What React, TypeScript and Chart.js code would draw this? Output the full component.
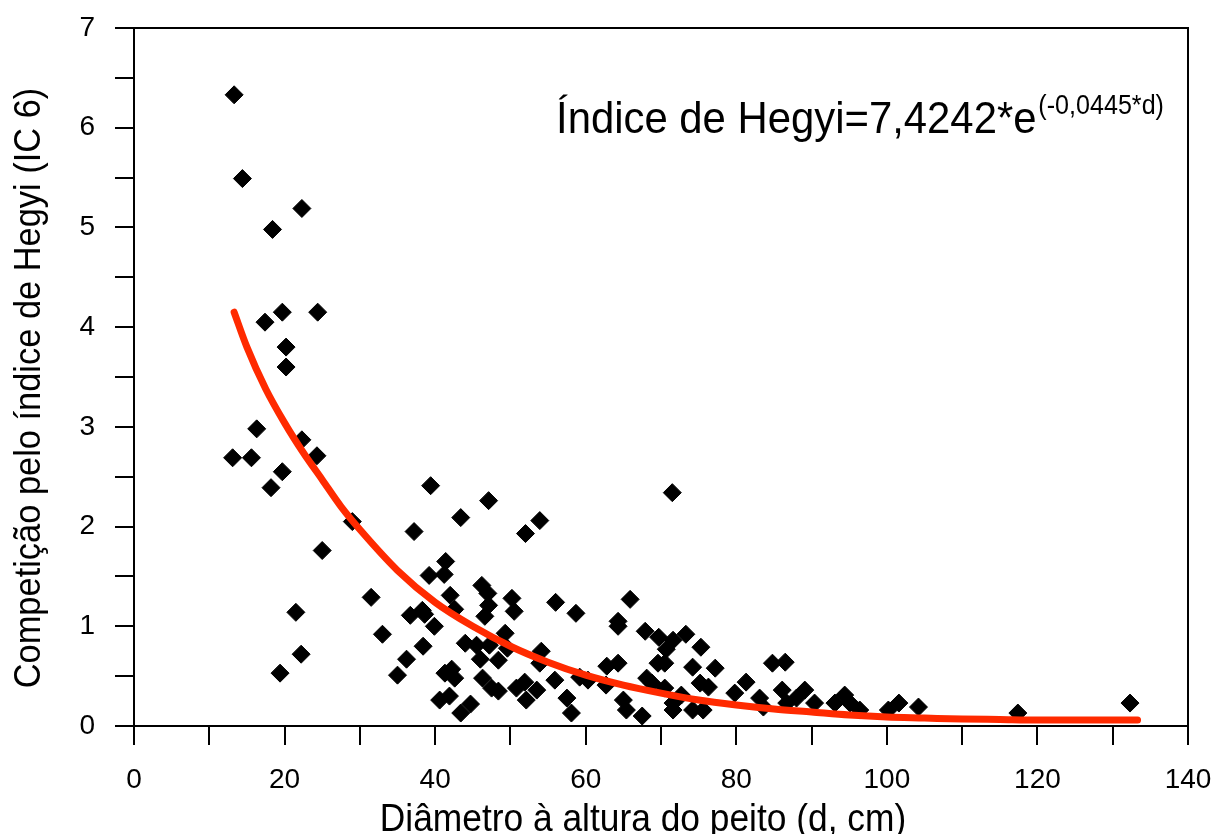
import React, { useEffect, useRef } from "react";
import { Chart, registerables } from "chart.js";

Chart.register(...registerables);

// Observed data: diameter at breast height (cm) and Hegyi competition index
const diameterCm: number[] = [
  13.3, 14.4, 18.4, 22.3, 17.4, 19.7, 24.4, 20.2, 20.2, 16.3, 13.1, 15.6, 19.7, 18.2, 22.3, 24.3, 25.0, 29.0, 21.5, 22.2, 19.4,
  39.4, 47.1, 43.4, 37.2, 52.0, 53.9, 71.5, 31.5, 33.0, 35.0, 36.2, 36.7, 38.3, 38.6, 39.2, 41.4, 41.2, 39.9, 38.4,
  42.0, 42.6, 44.0, 45.5, 47.2, 46.0, 48.4, 49.3, 49.6, 46.2, 47.0, 47.1, 46.6, 50.2, 50.5, 42.2, 42.6, 41.3, 40.6,
  41.9, 43.4, 44.7, 46.3, 47.5, 48.4, 50.8, 51.9, 52.1, 56.0, 58.7, 65.9, 64.3, 64.3, 67.9, 69.7, 71.6, 73.3, 70.7,
  75.3, 70.5, 74.2, 77.2, 54.1, 53.9, 55.9, 53.5, 57.5, 58.1, 59.2, 60.3, 62.8, 64.3, 62.7, 65.0, 65.4, 67.5, 68.1,
  68.8, 70.5, 71.6, 71.6, 72.7, 74.2, 75.6, 75.2, 76.3, 79.8, 81.3, 83.1, 83.6, 84.8, 86.5, 86.1, 86.7, 88.0, 89.1,
  90.4, 93.1, 94.4, 95.1, 96.4, 100.2, 101.6, 104.2, 117.4, 132.3, 69.6,
];
const hegyiIndex: number[] = [
  6.33, 5.49, 4.98, 5.19, 4.05, 4.15, 4.15, 3.80, 3.60, 2.98, 2.69, 2.69, 2.55, 2.39, 2.87, 2.71, 1.76, 2.05, 1.14, 0.72, 0.53,
  2.41, 2.26, 2.09, 1.95, 1.93, 2.06, 2.34, 1.29, 0.92, 0.51, 0.67, 1.11, 1.16, 1.12, 1.51, 1.65, 1.52, 1.00, 0.80,
  1.31, 1.17, 0.83, 0.81, 0.81, 0.67, 0.66, 0.93, 0.78, 1.41, 1.33, 1.21, 1.10, 1.28, 1.15, 0.57, 0.48, 0.53, 0.26,
  0.30, 0.13, 0.22, 0.48, 0.38, 0.35, 0.38, 0.44, 0.26, 1.24, 1.13, 1.27, 1.05, 1.00, 0.95, 0.89, 0.86, 0.92, 0.77,
  0.79, 0.63, 0.59, 0.58, 0.75, 0.63, 0.46, 0.36, 0.28, 0.13, 0.49, 0.46, 0.60, 0.63, 0.41, 0.26, 0.16, 0.10, 0.48,
  0.43, 0.38, 0.23, 0.16, 0.31, 0.16, 0.16, 0.43, 0.39, 0.33, 0.44, 0.28, 0.19, 0.63, 0.64, 0.36, 0.23, 0.28, 0.36,
  0.23, 0.23, 0.31, 0.23, 0.16, 0.16, 0.23, 0.19, 0.13, 0.23, 0.63,
];

// Fitted curve
const fitDiameter: number[] = [13.3, 15, 17.5, 20, 22.5, 25, 27.5, 30, 35, 40, 45, 50, 55, 60, 65, 70, 75, 80, 85, 90, 95, 100, 105, 110, 115, 120, 125, 130, 133.3];
const fitIndex: number[] = [4.15, 3.8, 3.38, 3.04, 2.74, 2.47, 2.2, 1.97, 1.56, 1.24, 1.0, 0.8, 0.64, 0.51, 0.41, 0.33, 0.26, 0.21, 0.17, 0.14, 0.11, 0.09, 0.08, 0.07, 0.065, 0.06, 0.06, 0.06, 0.06];

const xTickLabels: number[] = [0, 20, 40, 60, 80, 100, 120, 140];
const yTickLabels: number[] = [0, 1, 2, 3, 4, 5, 6, 7];

const xTitle = "Diâmetro à altura do peito (d, cm)";
const yTitle = "Competição pelo índice de Hegyi (IC 6)";
const eqMain = "Índice de Hegyi=7,4242*e";
const eqSup = "(-0,0445*d)";

const FONT = "'Liberation Sans', Arial, sans-serif";

function zeroPadding(s: any) {
  s.paddingLeft = 0;
  s.paddingRight = 0;
  s.paddingTop = 0;
  s.paddingBottom = 0;
}

export default function App() {
  const ref = useRef<HTMLCanvasElement | null>(null);

  useEffect(() => {
    const canvas = ref.current;
    if (!canvas) return;

    const textPlugin = {
      id: "textPlugin",
      beforeDatasetsDraw(chart: any) {
        const { ctx, chartArea } = chart;
        ctx.save();
        ctx.strokeStyle = "#000";
        ctx.lineWidth = 2;
        ctx.strokeRect(chartArea.left, chartArea.top, chartArea.right - chartArea.left, chartArea.bottom - chartArea.top);
        ctx.restore();
      },
      afterDraw(chart: any) {
        const { ctx } = chart;
        const sx = 0.93;
        ctx.save();
        ctx.fillStyle = "#000";
        ctx.textBaseline = "alphabetic";
        // equation
        ctx.save();
        ctx.translate(556, 133);
        ctx.scale(sx, 1);
        ctx.font = `45px ${FONT}`;
        ctx.textAlign = "left";
        ctx.fillText(eqMain, 0, 0);
        const w = ctx.measureText(eqMain).width;
        ctx.font = `27px ${FONT}`;
        ctx.fillText(eqSup, w + 2, -19);
        ctx.restore();
        // x title
        ctx.save();
        ctx.translate(643, 831);
        ctx.scale(sx, 1);
        ctx.font = `38px ${FONT}`;
        ctx.textAlign = "center";
        ctx.fillText(xTitle, 0, 0);
        ctx.restore();
        // y title
        ctx.save();
        ctx.translate(40, 388);
        ctx.rotate(-Math.PI / 2);
        ctx.scale(sx, 1);
        ctx.font = `37px ${FONT}`;
        ctx.textAlign = "center";
        ctx.fillText(yTitle, 0, 0);
        ctx.restore();
        ctx.restore();
      },
    };

    const chart = new Chart(canvas, {
      type: "scatter",
      data: {
        datasets: [
          {
            type: "line",
            label: "Ajuste",
            data: fitDiameter.map((x, i) => ({ x, y: fitIndex[i] })),
            borderColor: "#ff2a00",
            borderWidth: 7,
            borderCapStyle: "round",
            pointRadius: 0,
            tension: 0.4,
            cubicInterpolationMode: "monotone",
            fill: false,
            order: 0,
          } as any,
          {
            label: "Observado",
            data: diameterCm.map((x, i) => ({ x, y: hegyiIndex[i] })),
            pointStyle: "rectRot",
            pointRadius: 9,
            backgroundColor: "#000",
            borderColor: "#000",
            borderWidth: 1,
            order: 1,
          },
        ],
      },
      options: {
        responsive: false,
        animation: false,
        layout: { padding: { top: 28, right: 30, left: 0, bottom: 0 } },
        plugins: { legend: { display: false }, tooltip: { enabled: false } },
        scales: {
          x: {
            type: "linear",
            min: 0,
            max: 140,
            afterFit: (s: any) => {
              s.height = 108;
              zeroPadding(s);
            },
            ticks: {
              stepSize: 10,
              autoSkip: false,
              maxRotation: 0,
              padding: 18,
              color: "#000",
              font: { family: FONT, size: 28 },
              callback: (v: any) => (xTickLabels.includes(Number(v)) ? String(v) : ""),
            },
            grid: { drawOnChartArea: false, drawTicks: true, tickLength: 19, color: "#000", lineWidth: 2 },
            border: { display: false },
          },
          y: {
            type: "linear",
            min: 0,
            max: 7,
            afterFit: (s: any) => {
              s.width = 134;
              zeroPadding(s);
            },
            ticks: {
              stepSize: 0.5,
              autoSkip: false,
              padding: 20,
              color: "#000",
              font: { family: FONT, size: 28 },
              callback: (v: any) => (yTickLabels.includes(Number(v)) ? String(v) : ""),
            },
            grid: { drawOnChartArea: false, drawTicks: true, tickLength: 19, color: "#000", lineWidth: 2 },
            border: { display: false },
          },
        },
      },
      plugins: [textPlugin],
    });

    return () => chart.destroy();
  }, []);

  return (
    <div style={{ position: "fixed", left: 0, top: 0, width: 1218, height: 834, background: "#fff" }}>
      <canvas ref={ref} width={1218} height={834} style={{ display: "block" }} />
    </div>
  );
}
